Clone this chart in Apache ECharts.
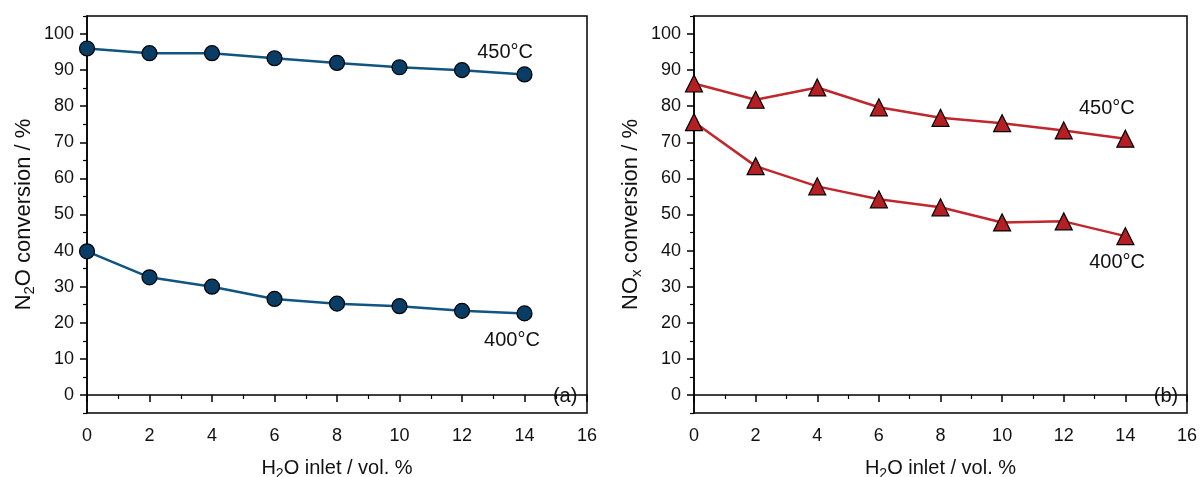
<!DOCTYPE html>
<html><head><meta charset="utf-8">
<script src="https://cdn.jsdelivr.net/npm/echarts@6/dist/echarts.min.js"></script>
<style>html,body{margin:0;padding:0;background:#fff}#c{width:1202px;height:477px}</style>
</head><body><div id="c"></div>
<script>
const xValues = [0, 2, 4, 6, 8, 10, 12, 14];
const n2o450 = [96.0, 94.7, 94.7, 93.3, 92.0, 90.8, 90.0, 88.8];
const n2o400 = [39.8, 32.6, 30.0, 26.6, 25.3, 24.6, 23.3, 22.6];
const nox450 = [86.3, 81.8, 85.2, 79.7, 76.8, 75.3, 73.3, 71.0];
const nox400 = [75.6, 63.4, 57.8, 54.2, 52.0, 47.8, 48.1, 44.0];
const yTickValues = [0, 10, 20, 30, 40, 50, 60, 70, 80, 90, 100];
const yMinorValues = [-5, 5, 15, 25, 35, 45, 55, 65, 75, 85, 95, 105];
const tempLabels = ['450°C', '400°C'];
const panelLabels = ['(a)', '(b)'];
// annotation anchors in data coordinates: [panel, x, y, text]
const notesData = [
  [0, 13.38, 95.0, tempLabels[0]], [0, 13.6, 15.0, tempLabels[1]], [0, 15.3, -0.55, panelLabels[0]],
  [1, 13.4, 79.5, tempLabels[0]], [1, 13.73, 36.6, tempLabels[1]], [1, 15.32, -0.55, panelLabels[1]]
];

const FONT = 'Liberation Sans, Arial, sans-serif';
const TXT = '#111';
const pair = (ys) => xValues.map((x, i) => [x, ys[i]]);
const nameRich = (fs) => ({ rich: {
  n: { fontSize: fs, fontFamily: FONT, color: TXT },
  s: { fontSize: Math.round(fs * 0.68), fontFamily: FONT, color: TXT, verticalAlign: 'bottom', padding: [Math.round(fs * 0.55), 0, 0, 0] }
} });

function xAxis(gi) {
  return {
    gridIndex: gi, type: 'value', min: 0, max: 16, interval: 2,
    name: '{n|H}{s|2}{n|O inlet / vol. %}', nameLocation: 'middle', nameGap: 43,
    nameTextStyle: nameRich(20),
    axisLine: { show: true, lineStyle: { color: '#000', width: 1.5 } },
    axisTick: { show: true, inside: false, length: 7, lineStyle: { color: '#000', width: 1.5 } },
    minorTick: { show: true, splitNumber: 2, length: 4, lineStyle: { color: '#000', width: 1.2 } },
    axisLabel: { fontSize: 18, fontFamily: FONT, color: TXT, margin: 14 },
    splitLine: { show: false }
  };
}
function yAxis(gi, nm) {
  return {
    gridIndex: gi, type: 'value', min: -5, max: 105, interval: 5, position: 'left',
    name: nm, nameLocation: 'middle', nameGap: 50, nameRotate: 90,
    nameTextStyle: nameRich(22),
    axisLine: { show: true, onZero: false, lineStyle: { color: '#000', width: 1.5 } },
    axisTick: { show: true, inside: false, length: 7, customValues: yTickValues, lineStyle: { color: '#000', width: 1.5 } },
    axisLabel: { fontSize: 18, fontFamily: FONT, color: TXT, margin: 13, customValues: yTickValues },
    splitLine: { show: false }
  };
}
function yMinorAxis(gi) {
  return {
    gridIndex: gi, type: 'value', min: -5, max: 105, interval: 5, position: 'left',
    axisLine: { show: false },
    axisTick: { show: true, inside: false, length: 4, customValues: yMinorValues, lineStyle: { color: '#000', width: 1.2 } },
    axisLabel: { show: false },
    splitLine: { show: false }
  };
}
const blueLine = '#0f5580', blueFill = '#0a3d66';
const redLine = '#c0282d', redFill = '#b51f24';

function series(gi, data, lineC, fillC, sym, size) {
  return {
    type: 'line', xAxisIndex: gi, yAxisIndex: gi * 2, data: pair(data),
    symbol: sym, symbolSize: size, showAllSymbol: true,
    lineStyle: { color: lineC, width: 2.5 },
    itemStyle: { color: fillC, borderColor: '#000', borderWidth: 1.2 },
    animation: false, z: 3
  };
}

const chart = echarts.init(document.getElementById('c'), null, { renderer: 'canvas' });
chart.setOption({
  backgroundColor: '#fff',
  animation: false,
  grid: [
    { left: 87, top: 16, width: 500, height: 397, show: true, borderColor: '#000', borderWidth: 1.5, containLabel: false, outerBoundsMode: 'none' },
    { left: 694, top: 16, width: 493, height: 397, show: true, borderColor: '#000', borderWidth: 1.5, containLabel: false, outerBoundsMode: 'none' }
  ],
  xAxis: [xAxis(0), xAxis(1)],
  yAxis: [
    yAxis(0, '{n|N}{s|2}{n|O conversion / %}'), yMinorAxis(0),
    yAxis(1, '{n|NO}{s|x}{n| conversion / %}'), yMinorAxis(1)
  ],
  series: [
    series(0, n2o450, blueLine, blueFill, 'circle', 15),
    series(0, n2o400, blueLine, blueFill, 'circle', 15),
    series(1, nox450, redLine, redFill, 'triangle', 17),
    series(1, nox400, redLine, redFill, 'triangle', 17)
  ]
});
const graphics = notesData.map(([gi, x, y, t]) => {
  const p = chart.convertToPixel({ xAxisIndex: gi, yAxisIndex: gi * 2 }, [x, y]);
  return { type: 'text', x: p[0], y: p[1], z: 10, silent: true,
    style: { text: t, fontSize: 20, fontFamily: FONT, fill: TXT, align: 'center', verticalAlign: 'middle' } };
});
chart.setOption({ graphic: graphics });
</script></body></html>
